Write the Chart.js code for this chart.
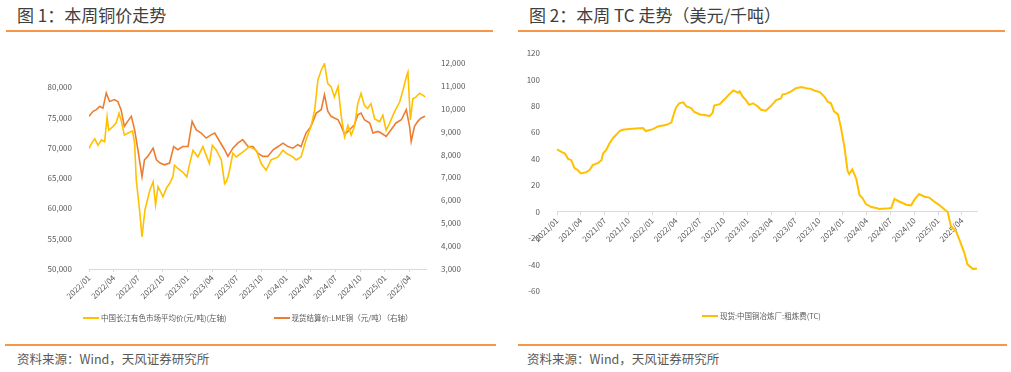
<!DOCTYPE html>
<html>
<head>
<meta charset="utf-8">
<script src="https://cdn.jsdelivr.net/npm/chart.js@4.4.1/dist/chart.umd.min.js"></script>
<style>
  html, body { margin: 0; padding: 0; background: #fff; }
  body { width: 1011px; height: 372px; position: relative; overflow: hidden;
         font-family: "Noto Sans CJK SC", "Noto Sans", sans-serif; }
  .title { position: absolute; top: 5px; font-size: 17px; line-height: 19px; color: #404040; }
  .rule { position: absolute; height: 2px; background: #F79646; }
  .src { position: absolute; top: 352px; font-size: 12.5px; line-height: 14px; color: #595959; }
  .box { position: absolute; top: 35px; }
  .legend { position: absolute; display: flex; align-items: center; font-size: 7.5px; color: #595959; white-space: nowrap; }
  .legend .item { display: flex; align-items: center; }
  .legend .swatch { display: inline-block; width: 16px; height: 2px; margin-right: 2px; }
</style>
</head>
<body>

<div class="title" style="left:17px">图 1：本周铜价走势</div>
<div class="title" style="left:529px">图 2：本周 TC 走势（美元/千吨）</div>
<div class="rule" style="left:6px; width:487px; top:30px"></div>
<div class="rule" style="left:518px; width:487px; top:30px"></div>

<div class="box" style="left:0; width:500px; height:280px"><canvas id="copperChart" width="500" height="280"></canvas></div>
<div class="box" style="left:510px; width:501px; height:270px"><canvas id="tcChart" width="501" height="270"></canvas></div>

<div class="legend" id="copperLegend" style="left:83px; top:312px"></div>
<div class="legend" id="tcLegend" style="left:702px; top:310px"></div>

<div class="rule" style="left:5px; width:491px; top:344px"></div>
<div class="rule" style="left:518px; width:489px; top:344px"></div>
<div class="src" style="left:17px">资料来源：Wind，天风证券研究所</div>
<div class="src" style="left:527px">资料来源：Wind，天风证券研究所</div>

<script>
/* ---------------------------
   Data (months counted from the first x tick)
--------------------------- */
// 图1: x = months since 2022/01
const cjMonth = [0,0.3,0.7,1.1,1.5,1.9,2.2,2.4,2.9,3.3,3.65,3.9,4.3,4.7,5.3,5.55,5.75,6.15,6.45,6.8,
  7,7.4,7.8,8.1,8.4,8.8,9,9.4,9.8,10.2,10.4,10.8,11.4,11.9,12.25,12.65,13.25,13.85,14.65,15,
  15.5,16.1,16.5,16.7,16.9,17.1,17.5,17.9,18.7,19.5,20.35,20.95,21.55,22.15,23,23.6,24,24.8,25.2,25.8,
  26.4,27,27.45,27.85,28.25,28.65,29.05,29.45,29.85,30.3,30.7,31.1,31.5,31.9,32.3,32.7,33.1,33.5,33.9,34.3,
  34.75,35.35,35.75,36.15,36.55,37.15,37.8,38.2,38.6,38.8,39.1,39.4,39.8,40.2,40.6,40.9];
const cjPrice = [69900,70700,71500,70400,71300,71000,75100,72900,73500,74100,75700,74600,72100,72400,72800,70700,64700,59700,55300,59700,
  60800,63000,64400,60600,63600,62500,61900,63300,64100,65200,67100,66600,66000,65200,67400,69600,68500,70200,67400,70400,
  69600,68000,64100,64400,65200,66300,69100,68500,69300,70200,69600,67400,66300,68000,68500,69600,69100,68500,68000,68500,
  71300,73500,76200,81200,82800,83900,80600,80100,78400,80100,75100,71800,73700,72100,73500,77300,79000,77000,76500,77300,
  74800,74300,75400,72900,74000,75900,77600,79500,81700,82500,74600,78100,78400,79000,78700,78400];

const lmeMonth = [0,0.5,0.9,1.3,1.7,2.1,2.5,3.1,3.5,3.9,4.3,4.7,5.15,5.55,5.95,6.45,6.75,7.15,7.8,8.2,
  8.65,9.2,9.8,10.3,10.8,11.4,12.05,12.55,13.05,13.65,14.25,14.9,15.3,15.9,16.5,16.9,17.5,18.1,18.7,19.35,
  19.95,20.55,21.15,21.75,22.4,23,23.6,24.2,24.8,25.4,25.8,26.4,27,27.65,28.25,28.65,29.05,29.45,29.85,30.3,
  30.7,31.1,31.5,31.9,32.3,32.7,33.1,33.5,34.15,34.55,35.15,35.55,36.15,36.75,37.35,38,38.6,39,39.2,39.6,
  40,40.4,40.9];
const lmePrice = [9670,9890,9960,10100,10030,10690,10320,10400,10320,9960,9230,9450,9670,9080,8210,7040,7770,7920,8280,7770,
  7630,7550,7630,8350,8210,8350,8350,9450,9080,8940,8720,8870,8940,8570,8210,7920,8280,8500,8650,8350,
  8350,8060,7920,7920,8210,8350,8500,8350,8280,8430,8350,8940,9230,9810,9960,10620,9890,9670,9600,9520,
  9230,8870,9010,9160,9300,9740,9810,9520,9380,8940,9010,8940,8790,9080,9380,9520,9960,9230,8570,9230,
  9450,9600,9670];

// 图2: x = months since 2021/01
const tcMonth = [0,0.5,1,1.4,1.8,2.2,2.6,3,3.7,4.1,4.5,5.2,5.6,5.8,6.2,6.6,7.1,7.9,8.3,9.1,
  10.8,11.2,12.1,12.7,13.8,14.4,14.7,15,15.4,15.9,16.3,16.9,17.3,18,18.8,19.2,19.6,19.8,20.5,21.1,
  21.5,22.2,22.8,23,23.4,23.8,24.2,24.7,25.3,25.7,26.3,27,27.6,28.2,28.4,28.9,29.5,30.1,30.8,31.4,
  32,32.4,33.1,33.7,34.1,34.5,34.9,35.4,35.8,36.2,36.6,36.8,37.2,37.7,38.1,38.5,38.9,39.6,40.2,40.6,
  41.4,42.1,42.5,43.1,44,44.6,45,45.6,46.3,46.9,47.5,48.2,48.8,49.2,49.6,50.3,50.7,51.3,51.7,52.4,52.9];
const tcValue = [47.2,45.5,44,40,39,33,31.6,29,30,31.6,35.3,37,39,44,46.7,51.6,56,61,62,62.5,
  63.3,61,62.5,64.5,65.7,67.4,73.5,78.8,82,82.7,79.6,78.3,75.4,73.5,73,72.3,74.7,80.3,81.3,85,
  87.6,91.7,90,91,86.9,84.4,80.8,82,79.6,77.1,76.4,80.3,84.4,85.6,88.6,89.3,91,93.4,94.2,93.4,
  92.9,91.7,90.5,86.9,83.2,82,75.9,73.5,62.5,49.1,30.9,28.5,32,24.8,12.7,10.2,5.8,3.6,2.9,2.2,
  2.4,2.9,9.7,7.8,5.4,4.9,9,13.4,11.4,10.7,7.8,4.9,1.7,0,-10.5,-15.3,-21.4,-31,-39.7,-43.3,-42.8];

// tick values
const copperXTicks = [0,3,6,9,12,15,18,21,24,27,30,33,36,39];
const copperLeftTicks = [50000,55000,60000,65000,70000,75000,80000];
const copperRightTicks = [3000,4000,5000,6000,7000,8000,9000,10000,11000,12000];
const tcXTicks = [0,3,6,9,12,15,18,21,24,27,30,33,36,39,42,45,48,51];
const tcYTicks = [-60,-40,-20,0,20,40,60,80,100,120];

const copperLabels = ["中国长江有色市场平均价(元/吨)(左轴)", "现货结算价:LME铜（元/吨）（右轴）"];
const tcLabel = "现货:中国铜冶炼厂:粗炼费(TC)";

/* ---------------------------
   Helpers
--------------------------- */
const YELLOW = "#FFC000";
const ORANGE = "#ED7D31";
const TXT = "#595959";
const AXIS = "#D9D9D9";
const FONT = { family: "'Noto Sans CJK SC', 'Noto Sans', sans-serif", size: 8 };

function toPoints(xs, ys) {
  return xs.map((x, i) => ({ x, y: ys[i] }));
}

function monthLabel(startYear, v) {
  const y = startYear + Math.floor(v / 12);
  const m = Math.round(v % 12) + 1;
  return `${y}/${String(m).padStart(2, "0")}`;
}

function fixedTicks(values) {
  return axis => { axis.ticks = values.map(v => ({ value: v })); };
}

function renderLegend(id, chart) {
  const legend = document.getElementById(id);
  chart.data.datasets.forEach((ds, i) => {
    const item = document.createElement("span");
    item.className = "item";
    if (i > 0) item.style.marginLeft = "47px";
    const sw = document.createElement("span");
    sw.className = "swatch";
    sw.style.background = ds.borderColor;
    const name = document.createElement("span");
    name.textContent = ds.label;
    item.append(sw, name);
    legend.appendChild(item);
  });
}

/* ---------------------------
   图1 铜价
--------------------------- */
const copperChart = new Chart(document.getElementById("copperChart"), {
  type: "line",
  data: {
    datasets: [
      { label: copperLabels[0], data: toPoints(cjMonth, cjPrice), borderColor: YELLOW,
        borderWidth: 1.6, pointRadius: 0, tension: 0, yAxisID: "y" },
      { label: copperLabels[1], data: toPoints(lmeMonth, lmePrice), borderColor: ORANGE,
        borderWidth: 1.6, pointRadius: 0, tension: 0, yAxisID: "y1" }
    ]
  },
  options: {
    responsive: false,
    animation: false,
    layout: { padding: { top: 28, bottom: 6, left: 0, right: 0 } },
    plugins: { legend: { display: false }, tooltip: { enabled: false } },
    scales: {
      x: {
        type: "linear", min: 0, max: 41,
        grid: { drawOnChartArea: false, color: AXIS, tickLength: 3 },
        border: { color: AXIS },
        ticks: { autoSkip: false, minRotation: 45, maxRotation: 45, font: FONT, color: TXT, padding: 1,
                 callback: v => monthLabel(2022, v) },
        afterBuildTicks: fixedTicks(copperXTicks),
        afterFit: ax => { ax.height = 40; }
      },
      y: {
        position: "left", min: 50000, max: 84000,
        grid: { display: false }, border: { display: false },
        ticks: { autoSkip: false, font: FONT, color: TXT, padding: 9,
                 callback: v => v.toLocaleString("en-US") },
        afterBuildTicks: fixedTicks(copperLeftTicks),
        afterFit: ax => { ax.width = 89; }
      },
      y1: {
        position: "right", min: 3000, max: 12000,
        grid: { display: false }, border: { display: false },
        ticks: { autoSkip: false, font: FONT, color: TXT, padding: 7,
                 callback: v => v.toLocaleString("en-US") },
        afterBuildTicks: fixedTicks(copperRightTicks),
        afterFit: ax => { ax.width = 74; }
      }
    }
  }
});

/* ---------------------------
   图2 TC
--------------------------- */
const tcChart = new Chart(document.getElementById("tcChart"), {
  type: "line",
  data: {
    datasets: [
      { label: tcLabel, data: toPoints(tcMonth, tcValue), borderColor: YELLOW,
        borderWidth: 2, pointRadius: 0, tension: 0 }
    ]
  },
  options: {
    responsive: false,
    animation: false,
    layout: { padding: { top: 18, bottom: 7, left: 0, right: 34 } },
    plugins: { legend: { display: false }, tooltip: { enabled: false } },
    scales: {
      x: {
        type: "linear", min: 0, max: 52.9, position: { y: 0 },
        grid: { drawOnChartArea: false, color: AXIS, tickLength: 3 },
        border: { color: AXIS },
        ticks: { autoSkip: false, minRotation: 45, maxRotation: 45, font: FONT, color: TXT, padding: 1,
                 callback: v => monthLabel(2021, v) },
        afterBuildTicks: fixedTicks(tcXTicks)
      },
      y: {
        min: -60, max: 120,
        grid: { display: false }, border: { display: false },
        ticks: { autoSkip: false, font: FONT, color: TXT, padding: 9 },
        afterBuildTicks: fixedTicks(tcYTicks),
        afterFit: ax => { ax.width = 47; }
      }
    }
  }
});

renderLegend("copperLegend", copperChart);
renderLegend("tcLegend", tcChart);
</script>
</body>
</html>
